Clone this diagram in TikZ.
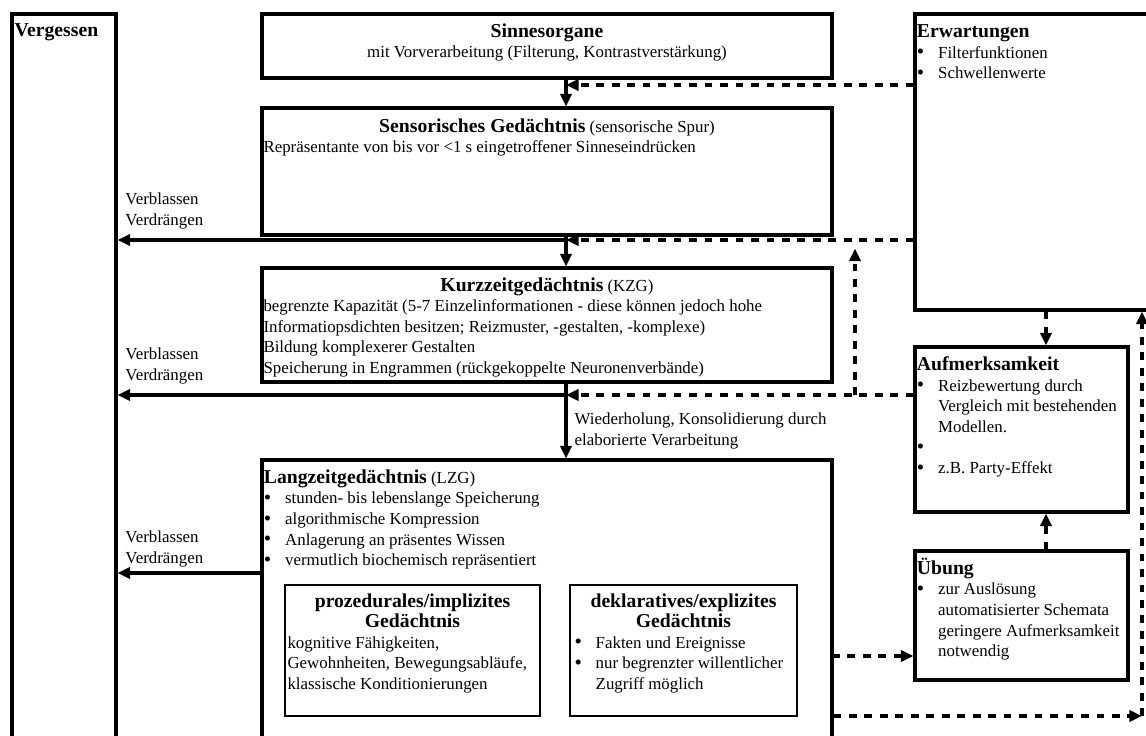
\documentclass[tikz,border=0pt]{standalone}
\usepackage{fontspec}
\setmainfont{Liberation Serif}
\usepackage{tikz}
\usetikzlibrary{
  arrows.meta,
  positioning,
  fit
}
\newcommand{\titel}{\fontsize{14}{16}\selectfont\bfseries}
\newcommand{\punkt}{\makebox[0.53cm][l]{\raisebox{-0.4pt}{\fontsize{15}{15}\selectfont\textbullet}}}
\newcommand{\weiter}{\hspace*{0.53cm}}

\begin{document}
\begin{tikzpicture}[
        x=0.025cm, y=-0.025cm,
        kasten/.style={draw, line width=2.2pt, inner sep=0pt},
        innen/.style={draw, line width=0.8pt, inner sep=0pt},
        schrift/.style={inner sep=0pt, align=left, font=\fontsize{12}{14.7}\selectfont},
        pfeil/.style={line width=2.3pt, -{Triangle[length=9pt,width=8pt]}},
        strich/.style={pfeil, dash pattern=on 5.5pt off 5.5pt}
      ]
      \clip (0,0) rectangle (1146,736);

      % Kästen
      \node[kasten, fit={(12,14) (116,790)}] (verg) {};
      \node[kasten, fit={(262,14) (832,78)}] (sinn) {};
      \node[kasten, fit={(262,108) (832,235)}] (senso) {};
      \node[kasten, fit={(262,268) (832,382)}] (kzg) {};
      \node[kasten, fit={(262,460) (832,790)}] (lzg) {};
      \node[innen, fit={(285,585) (540,716)}] (proz) {};
      \node[innen, fit={(570,585) (797,716)}] (dekl) {};
      \node[kasten, fit={(915,14) (1190,310)}] (erw) {};
      \node[kasten, fit={(915,347) (1128,512)}] (auf) {};
      \node[kasten, fit={(915,551) (1128,680)}] (ueb) {};

      % Texte in den Kästen
      \node[schrift, anchor=north west, below right=0.28cm and 0.1cm of verg.north west] (verg-t) {{\titel Vergessen}};
      \node[schrift, align=center, anchor=north, below=0.27cm of sinn.north] (sinn-t)
        {{\titel Sinnesorgane}\\mit Vorverarbeitung (Filterung, Kontrastverstärkung)};
      \node[schrift, anchor=north, below=0.31cm of senso.north] (senso-t)
        {{\titel Sensorisches Gedächtnis} (sensorische Spur)};
      \node[schrift, below right=0.85cm and 0.07cm of senso.north west] (senso-b)
        {Repräsentante von bis vor <1 s eingetroffener Sinneseindrücken};
      \node[schrift, anchor=north, below=0.28cm of kzg.north] (kzg-t)
        {{\titel Kurzzeitgedächtnis} (KZG)};
      \node[schrift, below right=0.82cm and 0.07cm of kzg.north west] (kzg-b)
        {begrenzte Kapazität (5-7 Einzelinformationen - diese können jedoch hohe\\
         Informatiopsdichten besitzen; Reizmuster, -gestalten, -komplexe)\\
         Bildung komplexerer Gestalten\\
         Speicherung in Engrammen (rückgekoppelte Neuronenverbände)};
      \node[schrift, below right=0.27cm and 0.08cm of lzg.north west] (lzg-t)
        {{\titel Langzeitgedächtnis} (LZG)\\
         \punkt stunden- bis lebenslange Speicherung\\
         \punkt algorithmische Kompression\\
         \punkt Anlagerung an präsentes Wissen\\
         \punkt vermutlich biochemisch repräsentiert};
      \node[schrift, align=center, anchor=north, below=0.22cm of proz.north] (proz-t)
        {{\titel prozedurales/implizites}\\{\titel Gedächtnis}};
      \node[schrift, below right=1.29cm and 0.07cm of proz.north west] (proz-b)
        {kognitive Fähigkeiten,\\Gewohnheiten, Bewegungsabläufe,\\klassische Konditionierungen};
      \node[schrift, align=center, anchor=north, below=0.22cm of dekl.north] (dekl-t)
        {{\titel deklaratives/explizites}\\{\titel Gedächtnis}};
      \node[schrift, below right=1.29cm and 0.12cm of dekl.north west] (dekl-b)
        {\punkt Fakten und Ereignisse\\\punkt nur begrenzter willentlicher\\\weiter Zugriff möglich};
      \node[schrift, below right=0.3cm and 0.08cm of erw.north west] (erw-t)
        {{\titel Erwartungen}\\\punkt Filterfunktionen\\\punkt Schwellenwerte};
      \node[schrift, below right=0.27cm and 0.08cm of auf.north west] (auf-t)
        {{\titel Aufmerksamkeit}\\\punkt Reizbewertung durch\\\weiter Vergleich mit bestehenden\\\weiter Modellen.\\\punkt\\\punkt z.B. Party-Effekt};
      \node[schrift, below right=0.2cm and 0.08cm of ueb.north west] (ueb-t)
        {{\titel Übung}\\\punkt zur Auslösung\\\weiter automatisierter Schemata\\\weiter geringere Aufmerksamkeit\\\weiter notwendig};

      % Hilfspunkte
      \coordinate (a0) at (566,85);
      \coordinate (a1) at (566,240);
      \coordinate (a2) at (566,395);
      \coordinate (a3) at (262,573);
      \coordinate (abzw) at (855,395);
      \coordinate (u1) at (832,656);
      \coordinate (ecke) at (1142,716);
      \coordinate (ea) at (1046,0);

      % Hauptweg
      \draw[pfeil] (sinn.south -| a0) -- (senso.north -| a0);
      \draw[pfeil] (senso.south -| a1) -- (kzg.north -| a1);
      \draw[pfeil] (kzg.south -| a2) -- (lzg.north -| a2)
        node[schrift, pos=0.63, anchor=west, xshift=5pt] (wdh)
        {Wiederholung, Konsolidierung durch\\elaborierte Verarbeitung};

      % Vergessen
      \draw[pfeil] (a1) -- (verg.east |- a1)
        node[schrift, at end, anchor=south west, xshift=4.5pt, yshift=6.5pt] (vb1) {Verblassen\\Verdrängen};
      \draw[pfeil] (a2) -- (verg.east |- a2)
        node[schrift, at end, anchor=south west, xshift=4.5pt, yshift=6.5pt] (vb2) {Verblassen\\Verdrängen};
      \draw[pfeil] (a3) -- (verg.east |- a3)
        node[schrift, at end, anchor=south west, xshift=4.5pt, yshift=3pt] (vb3) {Verblassen\\Verdrängen};

      % Rückkopplungen
      \draw[strich] (erw.west |- a0) -- (a0);
      \draw[strich] (erw.west |- a1) -- (a1);
      \draw[strich] (auf.west |- a2) -- (a2);
      \draw[strich, shorten >=6pt] (abzw) -- (abzw |- a1);
      \draw[strich] (erw.south -| ea) -- (auf.north -| ea);
      \draw[strich] (ueb.north -| ea) -- (auf.south -| ea);
      \draw[strich] (u1) -- (ueb.west |- u1);
      \draw[strich] (lzg.east |- ecke) -- (ecke);
      \draw[strich] (ecke) -- (ecke |- erw.south);
    \end{tikzpicture}
\end{document}
